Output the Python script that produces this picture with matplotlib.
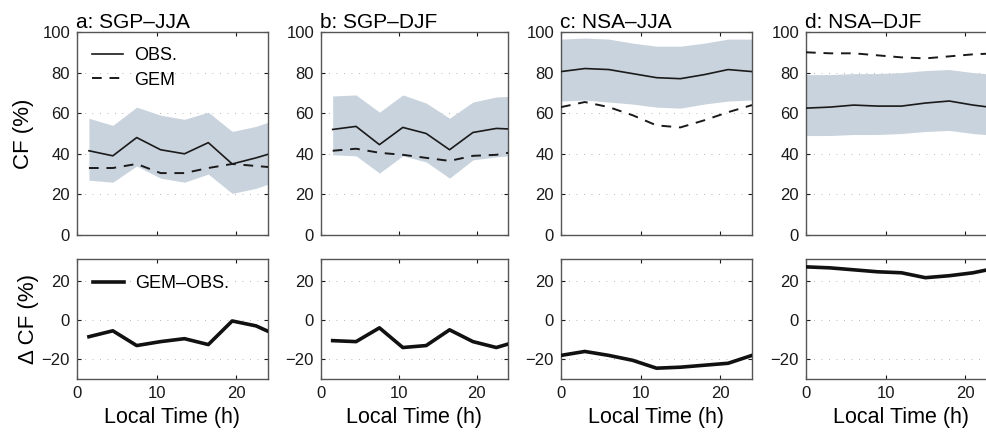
import matplotlib
matplotlib.use("Agg")
import matplotlib.pyplot as plt

plt.rcParams['font.family'] = ['Liberation Sans', 'DejaVu Sans']

# ---- data ----
x_sgp = [1.5, 4.5, 7.5, 10.5, 13.5, 16.5, 19.5, 22.5, 25.5]
x_nsa = [0, 3, 6, 9, 12, 15, 18, 21, 24]

titles = ["a: SGP\u2013JJA", "b: SGP\u2013DJF", "c: NSA\u2013JJA", "d: NSA\u2013DJF"]

a_obs = [41.5, 39, 48, 42, 40, 45.5, 35, 38, 41.5]
a_gem = [33, 33, 35, 30.5, 30.5, 33, 35, 34, 33]
a_hi = [57.5, 54, 63, 59, 57, 60.5, 51, 53.5, 57.5]
a_lo = [27, 26, 34, 28, 26, 30, 20.5, 23, 27]
a_diff = [-8.5, -5.5, -13, -11, -9.5, -12.5, -0.5, -3, -8.5]

b_obs = [52, 53.5, 44.5, 53, 50, 42, 50.5, 52.5, 52]
b_gem = [41.5, 42.5, 40.5, 39.5, 38, 36.5, 39, 39.5, 41.5]
b_hi = [68.5, 69, 60.5, 69, 65, 57.5, 65.5, 68, 68.5]
b_lo = [39.5, 39, 30.5, 39, 36, 28, 37, 38.5, 39.5]
b_diff = [-10.5, -11, -4, -14, -13, -5, -11, -14, -10.5]

c_obs = [80.5, 82, 81.5, 79.5, 77.5, 77, 79, 81.5, 80.5]
c_gem = [63, 65.5, 63, 59, 54, 53, 56.5, 60.5, 64]
c_hi = [96.5, 97, 96.5, 94.5, 93, 93, 94.5, 96.5, 96.5]
c_lo = [66, 66.5, 65.5, 64.5, 63, 62.5, 64.5, 66, 66.5]
c_diff = [-18, -16, -18, -20.5, -24.5, -24, -23, -22, -18]

d_obs = [62.5, 63, 64, 63.5, 63.5, 65, 66, 64, 62.5]
d_gem = [90, 89.5, 89.5, 88.5, 87.5, 87, 88, 89, 89.5]
d_hi = [79, 79, 79.5, 79.5, 80, 81, 81.5, 80, 79]
d_lo = [49, 49, 49.5, 49.5, 50, 51, 51.5, 50, 49]
d_diff = [27, 26.5, 25.5, 24.5, 24, 21.5, 22.5, 24, 26.5]

panels = [
    (x_sgp, a_obs, a_gem, a_hi, a_lo, a_diff),
    (x_sgp, b_obs, b_gem, b_hi, b_lo, b_diff),
    (x_nsa, c_obs, c_gem, c_hi, c_lo, c_diff),
    (x_nsa, d_obs, d_gem, d_hi, d_lo, d_diff),
]

W, H = 987, 432
fig = plt.figure(figsize=(W / 100, H / 100), dpi=100)

lefts_px = [77, 321, 561, 806]
widths_px = [191, 187, 191, 191]
top_row = (32, 235)
bot_row = (259, 379)

band_color = '#c9d3de'
grid_kw = dict(color='#a0a0a0', linewidth=0.6, linestyle=(0, (1, 8)))

def style(ax):
    ax.tick_params(direction='in', top=True, right=True, length=3,
                   labelsize=12, colors='#1a1a1a', pad=5)
    for s in ax.spines.values():
        s.set_color('#555555')
        s.set_linewidth(1.0)
    ax.set_xlim(0, 24)
    ax.set_xticks([0, 10, 20])
    ax.yaxis.grid(True, **grid_kw)
    ax.set_axisbelow(True)

for i, (xs, obs, gem, hi, lo, diff) in enumerate(panels):
    l = lefts_px[i] / W
    w = widths_px[i] / W
    ax1 = fig.add_axes([l, 1 - top_row[1] / H, w, (top_row[1] - top_row[0]) / H])
    ax2 = fig.add_axes([l, 1 - bot_row[1] / H, w, (bot_row[1] - bot_row[0]) / H])

    ax1.fill_between(xs, lo, hi, color=band_color, linewidth=0, zorder=1)
    ax1.plot(xs, obs, color='#1a1a1a', linewidth=1.2, label='OBS.', zorder=3)
    ax1.plot(xs, gem, color='#1a1a1a', linewidth=1.4, linestyle=(0, (5, 4)),
             label='GEM', zorder=3)
    style(ax1)
    ax1.set_ylim(0, 100)
    ax1.set_yticks([0, 20, 40, 60, 80, 100])
    ax1.set_xticklabels([])
    ax1.set_title(titles[i], loc='left', fontsize=15, pad=-1, x=-0.005)

    ax2.plot(xs, diff, color='#111111', linewidth=2.6, label='GEM\u2013OBS.', zorder=3)
    style(ax2)
    ax2.set_ylim(-30, 31)
    ax2.set_yticks([-20, 0, 20])
    ax2.set_xlabel('Local Time (h)', fontsize=15.5, labelpad=4)

    if i == 0:
        ax1.set_ylabel('CF (%)', fontsize=16, labelpad=6)
        ax2.set_ylabel('\u0394 CF (%)', fontsize=16, labelpad=2)
        ax1.legend(loc='upper left', frameon=False, fontsize=13, handlelength=1.7,
                   borderaxespad=0.45, labelspacing=0.4, handletextpad=0.6)
        ax2.legend(loc='upper left', frameon=False, fontsize=13, handlelength=1.7,
                   borderaxespad=0.5, handletextpad=0.6)

fig.savefig('out.png', dpi=100)
